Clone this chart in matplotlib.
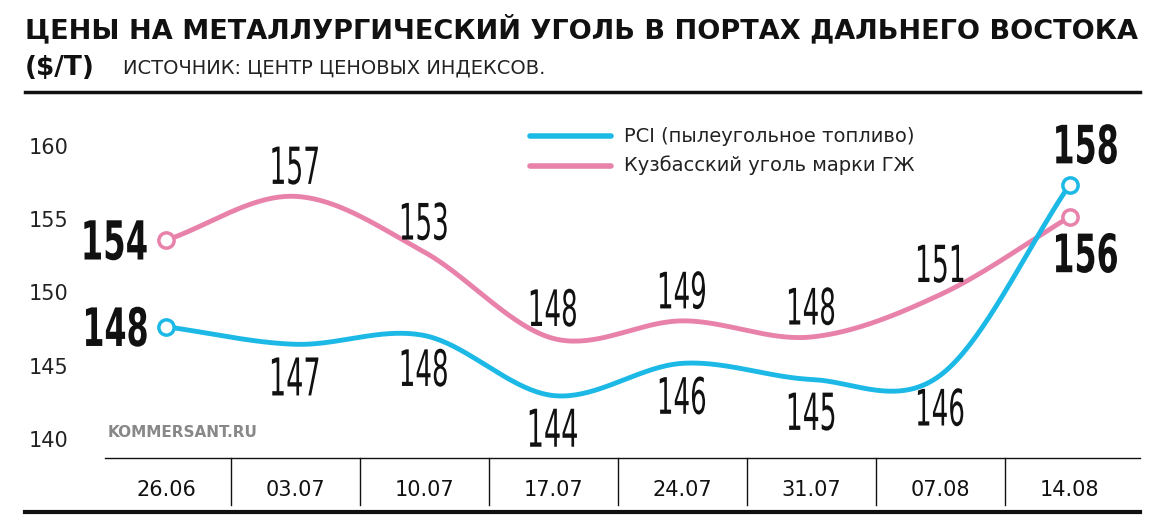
import numpy as np
import matplotlib.pyplot as plt
from matplotlib.textpath import TextPath
from matplotlib.patches import PathPatch
from matplotlib.font_manager import FontProperties
import matplotlib.transforms as mtrans

dates = ['26.06', '03.07', '10.07', '17.07', '24.07', '31.07', '07.08', '14.08']
pci = [147.8, 146.6, 147.2, 143.1, 145.3, 144.2, 144.5, 157.5]
kuz = [153.7, 156.7, 152.9, 147.0, 148.2, 147.1, 150.0, 155.3]
pci_labels = ['148', '147', '148', '144', '146', '145', '146', '158']
kuz_labels = ['154', '157', '153', '148', '149', '148', '151', '156']
yticks = [140, 145, 150, 155, 160]

PCI_C = '#1cb9e6'
KUZ_C = '#e882aa'


def smooth(y, n=40):
    # catmull-rom spline through the points, only for drawing the curve
    y = np.asarray(y, float)
    p = np.concatenate([[2 * y[0] - y[1]], y, [2 * y[-1] - y[-2]]])
    xs, ys = [], []
    for i in range(len(y) - 1):
        t = np.linspace(0, 1, n, endpoint=False)
        p0, p1, p2, p3 = p[i], p[i + 1], p[i + 2], p[i + 3]
        v = 0.5 * ((2 * p1) + (-p0 + p2) * t + (2 * p0 - 5 * p1 + 4 * p2 - p3) * t ** 2
                   + (-p0 + 3 * p1 - 3 * p2 + p3) * t ** 3)
        xs.append(i + t)
        ys.append(v)
    xs.append([len(y) - 1])
    ys.append([y[-1]])
    return np.concatenate(xs), np.concatenate(ys)


def narrow_text(ax, x, y, s, h=38, sx=0.52, ha='center', va='center', bold=False):
    # condensed number: text path squeezed horizontally, h = digit height in px
    fp = FontProperties(family='DejaVu Sans', weight='bold' if bold else 'normal')
    tp = TextPath((0, 0), s, size=100, prop=fp)
    ext = tp.get_extents()
    k = h / ext.height
    w = ext.width * k * sx
    dx = {'center': -w / 2, 'left': 0, 'right': -w}[ha]
    dy = {'center': -h / 2, 'bottom': 0, 'top': -h}[va]
    px, py = ax.transData.transform((x, y))
    tr = (mtrans.Affine2D().translate(-ext.x0, -ext.y0).scale(k * sx, k)
          .translate(px + dx, py + dy))
    ax.add_patch(PathPatch(tp, transform=tr, color='#111', lw=0, clip_on=False, zorder=4))


fig = plt.figure(figsize=(11.7, 5.21), dpi=100)
ax = fig.add_axes([0, 0.121, 1, 0.6967])
ax.set_xlim(-1.286, 7.777)
ax.set_ylim(138.84, 163.62)
ax.axis('off')

x = np.arange(len(dates))
for vals, c in [(kuz, KUZ_C), (pci, PCI_C)]:
    sx, sy = smooth(vals)
    ax.plot(sx, sy, color=c, lw=3.5, solid_capstyle='round', zorder=2)
    ax.plot([x[0], x[-1]], [vals[0], vals[-1]], 'o', ms=11, mfc='white', mec=c, mew=2.5, zorder=3)

for t in yticks:
    ax.text(-1.06, t, str(t), fontsize=15, color='#222', va='center', ha='left')

for i in range(1, 7):
    narrow_text(ax, i, kuz[i] + 0.8, kuz_labels[i], va='bottom')
    narrow_text(ax, i, pci[i] - 0.9, pci_labels[i], va='top')
narrow_text(ax, -0.15, kuz[0], kuz_labels[0], h=40, sx=0.6, ha='right', bold=True)
narrow_text(ax, -0.15, pci[0], pci_labels[0], h=40, sx=0.6, ha='right', bold=True)
narrow_text(ax, 7.13, pci[-1] + 1.4, pci_labels[-1], h=40, sx=0.6, va='bottom', bold=True)
narrow_text(ax, 7.13, kuz[-1] - 1.1, kuz_labels[-1], h=40, sx=0.6, va='top', bold=True)

# legend
ax.plot([2.82, 3.45], [160.8, 160.8], color=PCI_C, lw=4, solid_capstyle='round')
ax.plot([2.82, 3.45], [158.8, 158.8], color=KUZ_C, lw=4, solid_capstyle='round')
ax.text(3.55, 160.8, 'PCI (пылеугольное топливо)', fontsize=14, va='center', color='#222')
ax.text(3.55, 158.8, 'Кузбасский уголь марки ГЖ', fontsize=14, va='center', color='#222')

ax.text(-0.45, 140.6, 'KOMMERSANT.RU', fontsize=11, color='#888', weight='bold', va='center')

# header
fig.text(25 / 1170, 1 - 30 / 521, 'ЦЕНЫ НА МЕТАЛЛУРГИЧЕСКИЙ УГОЛЬ В ПОРТАХ ДАЛЬНЕГО ВОСТОКА',
         fontsize=19.5, weight='heavy', va='center', color='#111')
fig.text(25 / 1170, 1 - 68 / 521, '($/Т)', fontsize=19, weight='heavy', va='center', color='#111')
fig.text(123 / 1170, 1 - 68 / 521, 'ИСТОЧНИК: ЦЕНТР ЦЕНОВЫХ ИНДЕКСОВ.', fontsize=14, va='center', color='#222')

# rules and date row
fig.add_artist(plt.Line2D([25 / 1170, 1140 / 1170], [1 - 92 / 521] * 2, color='#111', lw=2.5))
fig.add_artist(plt.Line2D([105 / 1170, 1140 / 1170], [1 - 458 / 521] * 2, color='#111', lw=1))
fig.add_artist(plt.Line2D([25 / 1170, 1140 / 1170], [1 - 512 / 521] * 2, color='#111', lw=3))
for i, d in enumerate(dates):
    px = 166 + 129.1 * i
    fig.text(px / 1170, 1 - 490 / 521, d, fontsize=15, ha='center', va='center', color='#111')
    if i > 0:
        sep = px - 64.5
        fig.add_artist(plt.Line2D([sep / 1170] * 2, [1 - 505 / 521, 1 - 458 / 521], color='#111', lw=1))

fig.savefig('out.png', dpi=100)
